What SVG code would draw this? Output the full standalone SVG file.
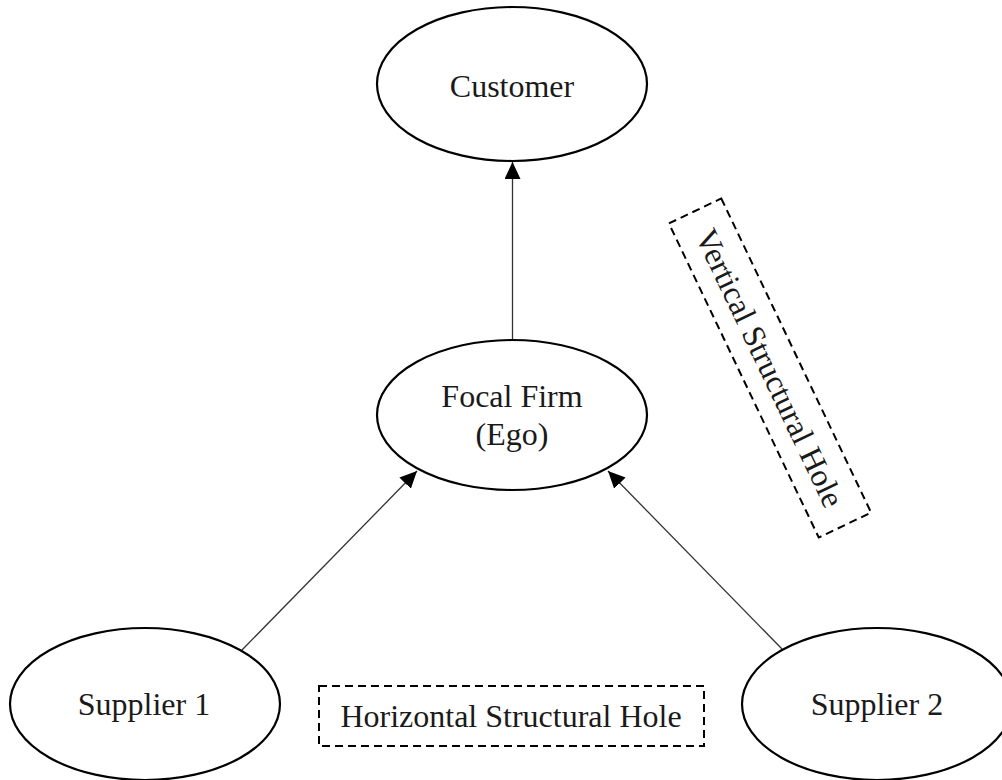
<svg xmlns="http://www.w3.org/2000/svg" width="1002" height="780" viewBox="0 0 1002 780">
<style>
.node{fill:#fff;stroke:#000;stroke-width:2.2}
.lbl{font-family:"Liberation Serif","Times New Roman",serif;font-size:32px;fill:#1a1a1a;text-anchor:middle}
.edge{stroke:#333;stroke-width:1.3;fill:none}
.hole{fill:none;stroke:#000;stroke-width:2;stroke-dasharray:8 5}
</style>
<defs>
<marker id="arr" markerUnits="userSpaceOnUse" markerWidth="18" markerHeight="16" viewBox="0 0 18 16" refX="17" refY="8" orient="auto">
<path d="M0,0 L17,8 L0,16 z" fill="#000"/>
</marker>
</defs>
<rect width="1002" height="780" fill="#fff"/>
<g id="connectors">
<line class="edge" x1="512.5" y1="340" x2="512.5" y2="162" marker-end="url(#arr)"/>
<line class="edge" x1="242" y1="650" x2="417" y2="471" marker-end="url(#arr)"/>
<line class="edge" x1="782" y1="649" x2="608" y2="471" marker-end="url(#arr)"/>
</g>
<g id="customer">
<ellipse class="node" cx="512" cy="84" rx="135" ry="77"/>
<text class="lbl" x="512" y="97">Customer</text>
</g>
<g id="focal-firm">
<ellipse class="node" cx="512" cy="415" rx="135" ry="75"/>
<text class="lbl" x="512" y="407">Focal Firm</text>
<text class="lbl" x="512" y="445">(Ego)</text>
</g>
<g id="supplier1">
<ellipse class="node" cx="145" cy="704" rx="135" ry="76"/>
<text class="lbl" x="144" y="715">Supplier 1</text>
</g>
<g id="supplier2">
<ellipse class="node" cx="877" cy="704" rx="135" ry="76"/>
<text class="lbl" x="877" y="715">Supplier 2</text>
</g>
<g id="horizontal-hole">
<rect class="hole" x="319" y="686" width="385" height="60"/>
<text class="lbl" x="511" y="727">Horizontal Structural Hole</text>
</g>
<g id="vertical-hole" transform="translate(770,368) rotate(64.5)">
<rect class="hole" x="-174" y="-29" width="348" height="58"/>
<text class="lbl" x="0" y="11">Vertical Structural Hole</text>
</g>
</svg>
